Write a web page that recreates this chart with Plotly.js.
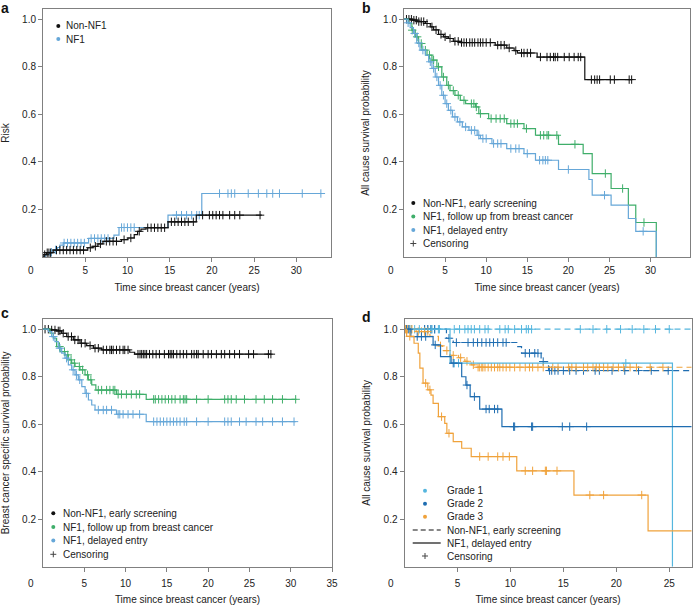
<!DOCTYPE html>
<html><head><meta charset="utf-8">
<script src="https://cdn.plot.ly/plotly-3.0.1.min.js"></script>
<style>html,body{margin:0;padding:0;background:#fff}#chart{width:697px;height:606px}</style>
</head><body><div id="chart"></div>
<script>
// ---------- Panel a: cumulative risk ----------
const aNonT = [0, 0.1, 0.4, 1.2, 5.3, 5.9, 6.5, 7.1, 9.3, 10.05, 10.8, 11.2, 11.6, 12.2, 14.8, 18.15];
const aNonV = [0, 0.01, 0.018, 0.029, 0.039, 0.045, 0.055, 0.066, 0.073, 0.08, 0.094, 0.108, 0.117, 0.123, 0.148, 0.176];
const aNonEnd = 25.9;
const aNonCens = [0.2, 0.5, 0.7, 0.9, 1.6, 2.0, 2.4, 2.8, 3.2, 3.6, 4.0, 4.4, 4.8, 5.6, 6.2, 6.8, 7.5, 7.9, 8.3, 8.7, 9.6, 10.4, 11.4, 12.4, 12.8, 13.2, 13.6, 14.0, 14.4, 15.2, 15.6, 16.0, 16.4, 16.8, 17.2, 17.8, 18.9, 19.7, 20.1, 20.5, 20.9, 21.3, 22.1, 22.7, 23.3, 25.7];
const aNF1T = [0, 0.3, 0.8, 1.3, 1.7, 2.0, 2.4, 5.4, 8.4, 9.0, 14.8, 18.8];
const aNF1V = [0, 0.01, 0.02, 0.03, 0.04, 0.05, 0.059, 0.078, 0.092, 0.124, 0.176, 0.267];
const aNF1End = 32.9;
const aNF1Cens = [1.0, 1.5, 2.5, 2.9, 3.3, 3.7, 4.1, 4.5, 4.9, 5.7, 6.1, 6.5, 6.9, 7.3, 7.7, 9.3, 9.6, 10.0, 10.4, 10.8, 15.8, 16.4, 17.0, 17.6, 18.2, 18.5, 20.9, 21.9, 22.3, 22.7, 24.3, 25.5, 26.5, 27.2, 28.0, 30.7, 32.9];

// ---------- Panel b: all cause survival ----------
const bNonT = [0, 1.0, 1.6, 2.6, 3.2, 3.6, 4.2, 4.8, 5.4, 6.0, 6.85, 11.1, 12.5, 13.4, 13.8, 16.2, 22.0];
const bNonV = [1, 0.996, 0.99, 0.982, 0.968, 0.955, 0.936, 0.926, 0.919, 0.907, 0.902, 0.891, 0.879, 0.868, 0.858, 0.841, 0.746];
const bNonEnd = 27.7;
const bNonCens = [0.3, 0.6, 0.9, 1.2, 1.5, 1.8, 2.1, 2.4, 2.8, 3.4, 3.9, 4.5, 5.0, 5.6, 6.2, 6.6, 7.0, 7.3, 7.6, 8.0, 8.3, 8.6, 9.0, 9.3, 9.6, 10.0, 10.5, 11.4, 11.8, 12.2, 12.8, 13.6, 14.3, 14.6, 15.0, 15.4, 16.6, 17.4, 17.8, 18.2, 18.4, 18.7, 19.5, 20.1, 20.7, 21.2, 21.5, 22.8, 23.2, 23.5, 23.8, 25.1, 25.6, 27.4, 27.7];
const bGreenT = [0, 0.55, 0.96, 1.37, 1.77, 2.18, 2.8, 3.4, 4.0, 4.6, 5.2, 5.6, 6.2, 6.85, 7.5, 8.7, 9.1, 10.3, 12.5, 14.6, 16.0, 18.8, 21.8, 22.9, 25.2, 27.3, 28.2, 30.7];
const bGreenV = [1, 0.982, 0.954, 0.926, 0.898, 0.87, 0.849, 0.828, 0.8, 0.757, 0.722, 0.7, 0.68, 0.659, 0.645, 0.631, 0.603, 0.582, 0.561, 0.54, 0.512, 0.474, 0.435, 0.351, 0.288, 0.218, 0.145, 0];
const bGreenEnd = 30.7;
const bGreenCens = [1.0, 1.6, 2.1, 2.6, 3.1, 3.6, 4.2, 4.8, 5.4, 6.0, 6.6, 7.3, 8.2, 8.5, 8.8, 9.3, 10.6, 11.2, 11.7, 12.2, 13.0, 13.4, 13.8, 14.9, 16.6, 17.0, 17.4, 17.6, 18.6, 20.8, 24.5, 26.6, 29.2];
const bBlueT = [0, 0.35, 0.75, 1.15, 1.55, 1.95, 2.6, 3.0, 3.4, 3.8, 4.2, 4.6, 5.0, 5.4, 5.9, 6.5, 7.1, 7.9, 8.9, 9.3, 10.7, 12.5, 14.6, 16.0, 18.8, 22.5, 22.9, 25.2, 27.3, 28.2, 30.7];
const bBlueV = [1, 0.985, 0.965, 0.94, 0.9, 0.87, 0.849, 0.821, 0.793, 0.757, 0.722, 0.68, 0.645, 0.617, 0.589, 0.568, 0.547, 0.533, 0.512, 0.498, 0.477, 0.456, 0.435, 0.407, 0.368, 0.326, 0.26, 0.218, 0.162, 0.108, 0];
const bBlueEnd = 30.7;
const bBlueCens = [0.5, 1.3, 1.8, 2.3, 3.2, 3.6, 4.0, 4.4, 4.8, 5.2, 5.7, 6.2, 6.8, 7.5, 8.2, 8.6, 9.1, 9.6, 10.0, 10.9, 11.4, 11.8, 13.0, 13.6, 14.0, 15.0, 16.5, 16.9, 17.2, 17.5, 20.0, 24.4, 29.1];

// ---------- Panel c: breast cancer specific survival ----------
const cNonT = [0, 0.8, 1.65, 2.26, 2.87, 3.67, 4.48, 5.29, 6.1, 7.1, 10.5, 11.1];
const cNonV = [1, 0.997, 0.993, 0.983, 0.969, 0.955, 0.941, 0.931, 0.92, 0.913, 0.903, 0.895];
const cNonEnd = 27.6;
const cNonCens = [0.25, 0.65, 1.05, 1.45, 1.85, 2.05, 2.45, 3.05, 3.45, 3.85, 4.25, 4.65, 5.1, 5.7, 6.3, 6.7, 7.3, 7.7, 8.1, 8.3, 8.5, 8.9, 9.3, 9.7, 9.9, 10.3, 11.5, 11.75, 11.95, 12.15, 12.35, 12.55, 12.9, 13.3, 13.7, 14.1, 14.7, 15.2, 15.4, 15.6, 15.8, 16.2, 16.6, 17.0, 17.4, 18.0, 18.3, 18.6, 18.8, 19.4, 20.0, 20.4, 21.0, 21.6, 22.0, 22.6, 23.2, 23.8, 24.9, 25.5, 27.3, 27.6];
const cGreenT = [0, 0.85, 1.25, 1.65, 2.06, 2.66, 3.07, 3.47, 3.88, 4.48, 5.09, 5.49, 5.9, 6.4, 8.9, 12.5];
const cGreenV = [1, 0.983, 0.962, 0.927, 0.906, 0.892, 0.871, 0.857, 0.843, 0.829, 0.808, 0.787, 0.766, 0.744, 0.726, 0.705];
const cGreenEnd = 30.7;
const cGreenCens = [2.0, 2.6, 3.0, 3.4, 3.8, 4.4, 4.8, 5.4, 5.8, 6.7, 7.1, 7.7, 8.1, 8.5, 8.7, 9.1, 9.5, 10.1, 10.7, 11.3, 11.7, 13.4, 13.6, 14.0, 14.4, 14.8, 15.2, 15.6, 16.0, 16.6, 17.0, 17.2, 17.4, 18.6, 20.0, 22.0, 22.4, 22.8, 23.4, 24.4, 25.8, 26.8, 27.8, 29.0, 30.6];
const cBlueT = [0, 0.65, 1.05, 1.45, 1.85, 2.26, 2.66, 3.07, 3.47, 3.88, 4.28, 4.7, 5.1, 5.5, 5.9, 6.3, 8.9, 12.5];
const cBlueV = [1, 0.99, 0.969, 0.948, 0.92, 0.899, 0.878, 0.85, 0.829, 0.808, 0.787, 0.758, 0.73, 0.702, 0.681, 0.66, 0.642, 0.611];
const cBlueEnd = 30.6;
const cBlueCens = [1.25, 2.05, 2.85, 3.65, 4.05, 4.45, 5.25, 6.7, 7.3, 7.7, 8.3, 9.1, 9.3, 9.7, 10.3, 10.9, 11.7, 13.4, 13.8, 14.2, 14.6, 15.0, 15.4, 15.8, 16.2, 16.6, 17.1, 17.4, 18.6, 20.0, 22.0, 22.4, 22.8, 23.8, 24.6, 25.8, 26.6, 27.8, 29.0, 30.4];

// ---------- Panel d: all cause survival by grade ----------
const dG1NonT = [0];
const dG1NonV = [1];
const dG1NonEnd = 27.5;
const dG1NonCens = [0.18, 0.65, 0.96, 1.9, 2.2, 2.5, 2.85, 3.2, 4.7, 5.2, 5.7, 6.0, 6.3, 6.6, 7.1, 7.6, 7.9, 9.0, 9.5, 9.8, 10.4, 11.05, 11.5, 11.7, 12.0, 16.6, 17.8, 19.1, 20.4, 21.5, 22.6, 23.7, 25.0];
const dG1NF1T = [0, 4.3, 25.3];
const dG1NF1V = [1, 0.857, 0];
const dG1NF1End = 25.3;
const dG1NF1Cens = [0.5, 1.4, 2.6, 3.3, 4.7, 5.1, 20.9];
const dG2NonT = [0, 3.96, 4.6, 10.6, 11.05, 12.9, 13.6];
const dG2NonV = [1, 0.962, 0.944, 0.927, 0.899, 0.864, 0.826];
const dG2NonEnd = 27.5;
const dG2NonCens = [1.9, 2.2, 2.5, 2.85, 4.2, 4.9, 6.0, 6.5, 6.9, 7.3, 7.7, 8.05, 8.4, 8.8, 9.3, 9.6, 11.4, 11.8, 12.3, 12.6, 13.1, 13.7, 13.9, 14.2, 14.5, 15.0, 15.6, 16.2, 16.9, 18.0, 18.4, 19.6, 20.8, 22.1, 23.3, 24.9];
const dG2NF1T = [0, 0.6, 2.7, 3.4, 4.4, 5.4, 5.8, 6.2, 7.1, 9.2];
const dG2NF1V = [1, 0.969, 0.934, 0.885, 0.857, 0.8, 0.765, 0.716, 0.664, 0.59];
const dG2NF1End = 27.5;
const dG2NF1Cens = [0.2, 0.4, 1.2, 1.6, 2.0, 2.9, 4.6, 5.9, 6.6, 7.7, 8.0, 8.5, 8.8, 10.3, 10.4, 12.0, 12.1, 14.9, 15.6, 17.2];
const dG3NonT = [0, 1.1, 2.4, 3.2, 3.6, 4.3, 5.1, 5.7, 6.3, 6.8];
const dG3NonV = [1, 0.99, 0.97, 0.93, 0.91, 0.89, 0.88, 0.865, 0.85, 0.84];
const dG3NonEnd = 27.5;
const dG3NonCens = [0.1, 0.3, 0.5, 0.7, 1.3, 1.6, 1.9, 2.2, 3.4, 4.0, 4.6, 5.3, 5.9, 6.5, 6.95, 7.1, 7.3, 7.4, 7.6, 7.9, 8.2, 8.5, 8.8, 9.0, 9.3, 9.6, 9.95, 10.4, 10.9, 11.4, 11.8, 12.1, 12.6, 13.1, 14.0, 14.5, 15.5, 15.8, 16.2, 16.9, 17.3, 17.8, 18.1, 18.4, 18.8, 19.2, 19.7, 20.2, 20.7, 21.3, 21.9, 23.2, 24.4];
const dG3NF1T = [0, 0.2, 0.9, 1.3, 1.45, 1.75, 2.2, 2.5, 2.7, 3.2, 3.8, 4.0, 4.6, 5.4, 6.3, 10.6, 16.0, 23.0];
const dG3NF1V = [1, 0.97, 0.941, 0.899, 0.836, 0.773, 0.745, 0.723, 0.688, 0.632, 0.604, 0.562, 0.527, 0.499, 0.464, 0.404, 0.302, 0.151];
const dG3NF1End = 27.5;
const dG3NF1Cens = [0.5, 2.0, 2.4, 3.5, 4.2, 7.1, 7.9, 8.8, 9.3, 9.9, 11.4, 12.1, 13.3, 13.4, 14.4, 17.5, 18.8, 22.4];

// ---------- tick labels / text ----------
const yTicks = [0.2, 0.4, 0.6, 0.8, 1.0];
const yTickText = ['0.2', '0.4', '0.6', '0.8', '1.0'];
const xTicksA = [5, 10, 15, 20, 25, 30];
const xTicksB = [5, 10, 15, 20, 25, 30, 35];
const xTicksD = [5, 10, 15, 20, 25];
const xTitle = 'Time since breast cancer (years)';

// ---------- colours ----------
const C_BLACK = '#111111', C_GREEN = '#3fae6a', C_BLUE = '#66a7d8';
const C_G1 = '#55b6de', C_G2 = '#1f6db1', C_G3 = '#f0a23b', C_CENS = '#444444';

// ---------- helpers ----------
const W = 697, H = 606;
const PX = p => p / W, PY = p => 1 - p / H;
function valAt(T, V, t) { let v = V[0]; for (let i = 0; i < T.length; i++) { if (T[i] <= t) v = V[i]; } return v; }
function curve(T, V, end, cens, color, n, dash) {
  const xa = 'x' + (n === 1 ? '' : n), ya = 'y' + (n === 1 ? '' : n);
  return [
    {type: 'scatter', mode: 'lines', x: T.concat([end]), y: V.concat([V[V.length - 1]]), xaxis: xa, yaxis: ya,
     line: {shape: 'hv', color: color, width: 1.2, dash: dash || 'solid'}, hoverinfo: 'skip', showlegend: false},
    {type: 'scatter', mode: 'markers', x: cens, y: cens.map(t => valAt(T, V, t)), xaxis: xa, yaxis: ya,
     marker: {symbol: 'cross-thin-open', size: 6, color: color, line: {color: color, width: 1}}, hoverinfo: 'skip', showlegend: false}
  ];
}

const data = [].concat(
  curve(aNF1T, aNF1V, aNF1End, aNF1Cens, C_BLUE, 1),
  curve(aNonT, aNonV, aNonEnd, aNonCens, C_BLACK, 1),
  curve(bNonT, bNonV, bNonEnd, bNonCens, C_BLACK, 2),
  curve(bGreenT, bGreenV, bGreenEnd, bGreenCens, C_GREEN, 2),
  curve(bBlueT, bBlueV, bBlueEnd, bBlueCens, C_BLUE, 2),
  curve(cNonT, cNonV, cNonEnd, cNonCens, C_BLACK, 3),
  curve(cGreenT, cGreenV, cGreenEnd, cGreenCens, C_GREEN, 3),
  curve(cBlueT, cBlueV, cBlueEnd, cBlueCens, C_BLUE, 3),
  curve(dG1NonT, dG1NonV, dG1NonEnd, dG1NonCens, C_G1, 4, '6px,4px'),
  curve(dG2NonT, dG2NonV, dG2NonEnd, dG2NonCens, C_G2, 4, '6px,4px'),
  curve(dG3NonT, dG3NonV, dG3NonEnd, dG3NonCens, C_G3, 4, '6px,4px'),
  curve(dG1NF1T, dG1NF1V, dG1NF1End, dG1NF1Cens, C_G1, 4),
  curve(dG2NF1T, dG2NF1V, dG2NF1End, dG2NF1Cens, C_G2, 4),
  curve(dG3NF1T, dG3NF1V, dG3NF1End, dG3NF1Cens, C_G3, 4)
);

const axBase = {showline: true, mirror: true, linecolor: '#808080', linewidth: 1, ticks: 'outside', ticklen: 4,
  tickwidth: 1, tickcolor: '#808080', showgrid: false, zeroline: false, automargin: false,
  tickfont: {size: 10, color: '#222'}};
function xa(domain, range, ticks, anchor, lblGap) {
  return Object.assign({}, axBase, {domain: domain, range: range, tickvals: ticks, anchor: anchor, ticklabelstandoff: lblGap,
    title: {text: xTitle, font: {size: 10, color: '#222'}, standoff: 8}});
}
function ya(domain, title, anchor) {
  return Object.assign({}, axBase, {domain: domain, range: [0, 1.043], tickvals: yTicks, ticktext: yTickText, anchor: anchor,
    title: {text: title, font: {size: 10, color: '#222'}, standoff: 11}});
}

const topY = [PY(257), PY(9)], botY = [PY(566.8), PY(319)];
const layout = {
  width: W, height: H, margin: {l: 0, r: 0, t: 0, b: 0}, paper_bgcolor: '#fff', plot_bgcolor: '#fff',
  font: {family: 'Liberation Sans, Arial, Helvetica, sans-serif', size: 10, color: '#222'},
  showlegend: false,
  xaxis: xa([PX(43), PX(331)], [0, 34.1], xTicksA, 'y', 0),
  yaxis: ya(topY, 'Risk', 'x'),
  xaxis2: xa([PX(404), PX(690)], [0, 34.8], xTicksB, 'y2', 0),
  yaxis2: ya(topY, 'All cause survival probability', 'x2'),
  xaxis3: xa([PX(43), PX(332)], [0, 35], xTicksB, 'y3', 3),
  yaxis3: ya(botY, 'Breast cancer specific survival probability', 'x3'),
  xaxis4: xa([PX(404.5), PX(691.5)], [0, 27.1], xTicksD, 'y4', 3),
  yaxis4: ya(botY, 'All cause survival probability', 'x4'),
  annotations: [],
  shapes: []
};

function txt(x, y, text, opts) {
  layout.annotations.push(Object.assign({xref: 'paper', yref: 'paper', x: PX(x), y: PY(y), text: text,
    showarrow: false, xanchor: 'left', yanchor: 'middle', borderpad: 0, font: {size: 10, color: '#222'}}, opts || {}));
}
function dot(x, y, color) {
  layout.shapes.push({type: 'circle', xref: 'paper', yref: 'paper', x0: PX(x - 2), x1: PX(x + 2), y0: PY(y + 2), y1: PY(y - 2),
    fillcolor: color, line: {width: 0}});
}
function plus(x, y) {
  layout.shapes.push({type: 'line', xref: 'paper', yref: 'paper', x0: PX(x - 3), x1: PX(x + 3), y0: PY(y), y1: PY(y), line: {color: C_CENS, width: 1}});
  layout.shapes.push({type: 'line', xref: 'paper', yref: 'paper', x0: PX(x), x1: PX(x), y0: PY(y - 3), y1: PY(y + 3), line: {color: C_CENS, width: 1}});
}

// panel letters
txt(0, 7.5, '<b>a</b>', {font: {size: 14, color: '#111'}});
txt(361, 7.5, '<b>b</b>', {font: {size: 14, color: '#111'}});
txt(0, 312.5, '<b>c</b>', {font: {size: 14, color: '#111'}});
txt(361, 317, '<b>d</b>', {font: {size: 14, color: '#111'}});

// origin labels
txt(31, 270.5, '0', {xanchor: 'center'});
txt(391, 270.5, '0', {xanchor: 'center'});
txt(31, 583.5, '0', {xanchor: 'center'});
txt(391, 583.5, '0', {xanchor: 'center'});

// legend a
dot(58.3, 26, C_BLACK); txt(65, 26, 'Non-NF1');
dot(58.3, 39, C_BLUE); txt(65, 39, 'NF1');

// legend b
const legB = [203, 216.5, 230, 243.5];
dot(413.3, legB[0], C_BLACK); txt(421.5, legB[0], 'Non-NF1, early screening');
dot(413.3, legB[1], C_GREEN); txt(421.5, legB[1], 'NF1, follow up from breast cancer');
dot(413.3, legB[2], C_BLUE); txt(421.5, legB[2], 'NF1, delayed entry');
plus(413.3, legB[3]); txt(421.5, legB[3], 'Censoring');

// legend c
const legC = [513.2, 527, 540.4, 554.3];
dot(53.3, legC[0], C_BLACK); txt(61.5, legC[0], 'Non-NF1, early screening');
dot(53.3, legC[1], C_GREEN); txt(61.5, legC[1], 'NF1, follow up from breast cancer');
dot(53.3, legC[2], C_BLUE); txt(61.5, legC[2], 'NF1, delayed entry');
plus(53.3, legC[3]); txt(61.5, legC[3], 'Censoring');

// legend d
const legD = [490.7, 503.7, 516.7, 530, 543, 556];
dot(425, legD[0], C_G1); txt(445.7, legD[0], 'Grade 1');
dot(425, legD[1], C_G2); txt(445.7, legD[1], 'Grade 2');
dot(425, legD[2], C_G3); txt(445.7, legD[2], 'Grade 3');
layout.shapes.push({type: 'line', xref: 'paper', yref: 'paper', x0: PX(412.7), x1: PX(440.7), y0: PY(legD[3]), y1: PY(legD[3]), line: {color: '#111', width: 1.2, dash: '5px,3px'}});
txt(445.7, legD[3], 'Non-NF1, early screening');
layout.shapes.push({type: 'line', xref: 'paper', yref: 'paper', x0: PX(412.7), x1: PX(440.7), y0: PY(legD[4]), y1: PY(legD[4]), line: {color: '#111', width: 1.2}});
txt(445.7, legD[4], 'NF1, delayed entry');
plus(425, legD[5]); txt(445.7, legD[5], 'Censoring');

Plotly.newPlot('chart', data, layout, {staticPlot: true, displayModeBar: false});
</script>
</body></html>
